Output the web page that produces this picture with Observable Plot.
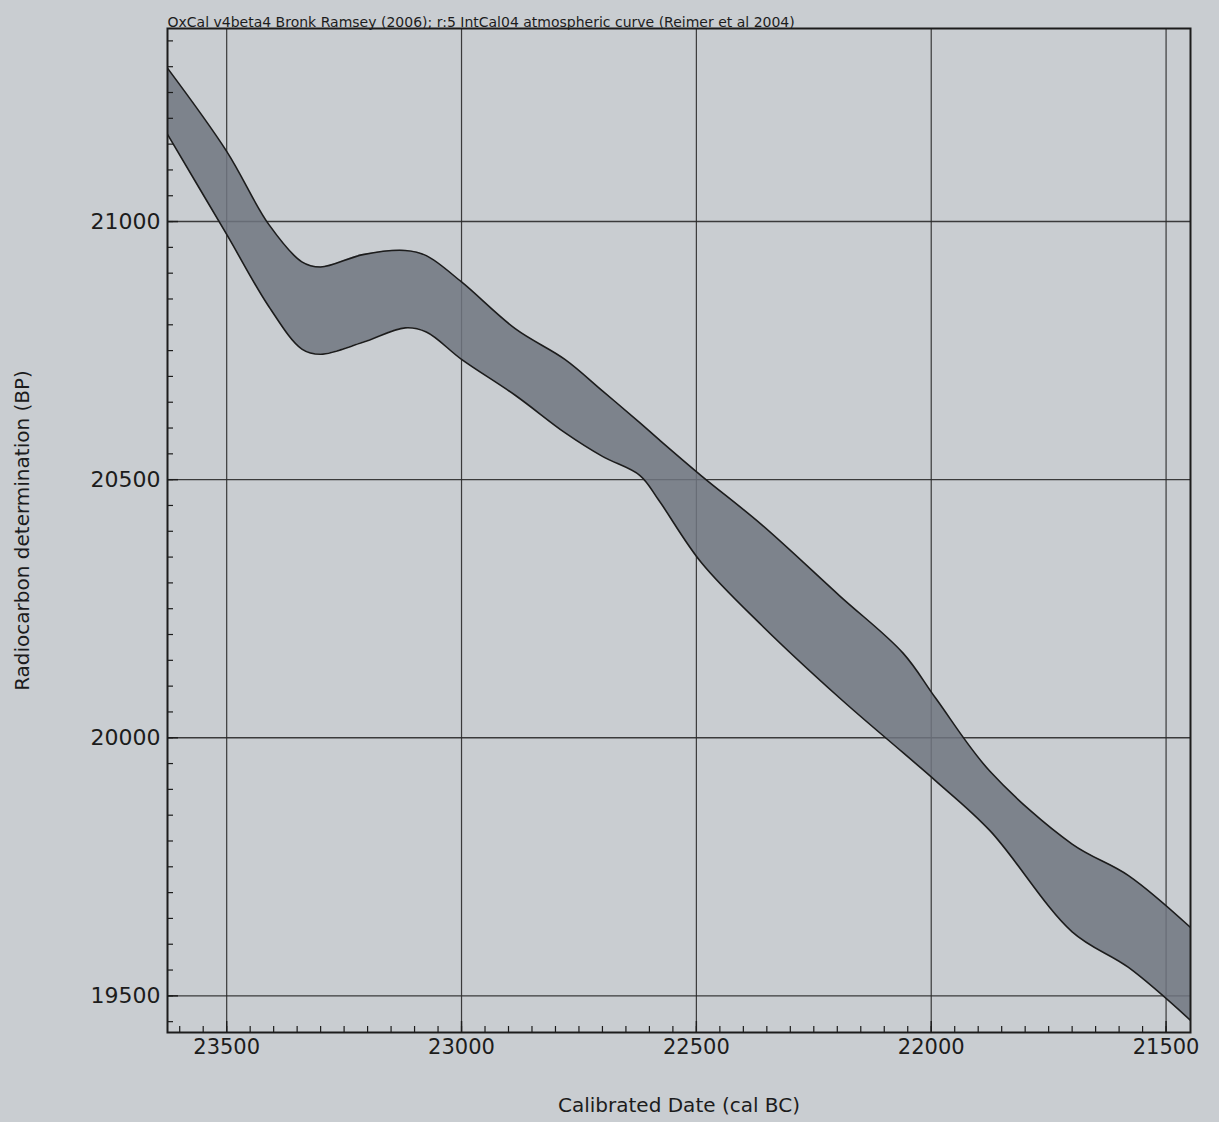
<!DOCTYPE html>
<html>
<head>
<meta charset="utf-8">
<script src="https://cdn.jsdelivr.net/npm/d3@7"></script>
<script src="https://cdn.jsdelivr.net/npm/@observablehq/plot@0.6"></script>
<style>
  html, body { margin: 0; padding: 0; background: #c9cdd1; }
  #chart { width: 1219px; height: 1122px; }
</style>
</head>
<body>
<div id="chart"></div>
<script>
// Calibrated date (cal BC) and the upper / lower edge of the IntCal04 band (BP)
const dates = [23630, 23500, 23410, 23340, 23300, 23210, 23120, 23075, 23000, 22885, 22780, 22700, 22620, 22580, 22490, 22360, 22195, 22060, 21990, 21875, 21700, 21580, 21445];
const upper = [21302, 21136, 20994, 20922, 20912, 20936, 20944, 20934, 20883, 20792, 20733, 20672, 20610, 20578, 20508, 20412, 20275, 20164, 20076, 19935, 19794, 19733, 19630];
const lower = [21175, 20975, 20835, 20753, 20743, 20766, 20794, 20786, 20733, 20663, 20591, 20545, 20508, 20460, 20340, 20217, 20077, 19971, 19916, 19820, 19624, 19555, 19450];

const xTicks = [23500, 23000, 22500, 22000, 21500];
const yTicks = [21000, 20500, 20000, 19500];
const xMinor = d3.range(21500, 23650, 50);
const yMinor = d3.range(19450, 21400, 50);

const title = "OxCal v4beta4 Bronk Ramsey (2006); r:5 IntCal04 atmospheric curve (Reimer et al 2004)";
const xLabel = "Calibrated Date (cal BC)";
const yLabel = "Radiocarbon determination (BP)";

const band = dates.map((d, i) => ({date: d, hi: upper[i], lo: lower[i]}));

const W = 1219, H = 1122;
const mL = 167, mR = 29, mT = 28, mB = 90;
const innerW = W - mL - mR, innerH = H - mT - mB;

const ink = "#1c1c1c";

const chart = Plot.plot({
  width: W,
  height: H,
  marginLeft: mL,
  marginRight: mR,
  marginTop: mT,
  marginBottom: mB,
  style: {background: "#c9cdd1", fontFamily: "DejaVu Sans", fontSize: "21px", color: ink, overflow: "visible"},
  x: {domain: [23626, 21448]},
  y: {domain: [19429, 21374]},
  marks: [
    Plot.gridX(xTicks, {stroke: "#2a2a2a", strokeOpacity: 0.9, strokeWidth: 1.2}),
    Plot.gridY(yTicks, {stroke: "#2a2a2a", strokeOpacity: 0.9, strokeWidth: 1.4}),
    Plot.area(band, {x1: "date", y1: "hi", x2: "date", y2: "lo", curve: "catmull-rom", fill: "#707680", fillOpacity: 0.85, clip: true}),
    Plot.line(band, {x: "date", y: "hi", curve: "catmull-rom", stroke: ink, strokeWidth: 1.6, clip: true}),
    Plot.line(band, {x: "date", y: "lo", curve: "catmull-rom", stroke: ink, strokeWidth: 1.6, clip: true}),
    Plot.tickY(yMinor, {y: d => d, insetRight: innerW - 6, stroke: ink, strokeWidth: 1.2}),
    Plot.tickY(yTicks, {y: d => d, insetRight: innerW - 11, stroke: ink, strokeWidth: 1.4}),
    Plot.tickX(xMinor, {x: d => d, insetTop: innerH - 6, stroke: ink, strokeWidth: 1.2}),
    Plot.tickX(xTicks, {x: d => d, insetTop: innerH - 11, stroke: ink, strokeWidth: 1.4}),
    Plot.axisX(xTicks, {tickSize: 0, tickPadding: 7, tickFormat: d => String(d), fontSize: 21, label: null}),
    Plot.axisY(yTicks, {tickSize: 0, tickPadding: 7, tickFormat: d => String(d), fontSize: 22, label: null}),
    Plot.frame({stroke: ink, strokeWidth: 2}),
    Plot.text([title], {frameAnchor: "top-left", text: d => d, textAnchor: "start", lineAnchor: "bottom", dy: -2, fontSize: 14, fill: ink}),
    Plot.text([xLabel], {frameAnchor: "bottom", text: d => d, textAnchor: "middle", lineAnchor: "middle", dy: 73, fontSize: 20, fill: ink}),
    Plot.text([yLabel], {frameAnchor: "left", text: d => d, rotate: -90, textAnchor: "middle", lineAnchor: "middle", dx: -145, fontSize: 20, fill: ink})
  ]
});

document.getElementById("chart").append(chart);
</script>
</body>
</html>
